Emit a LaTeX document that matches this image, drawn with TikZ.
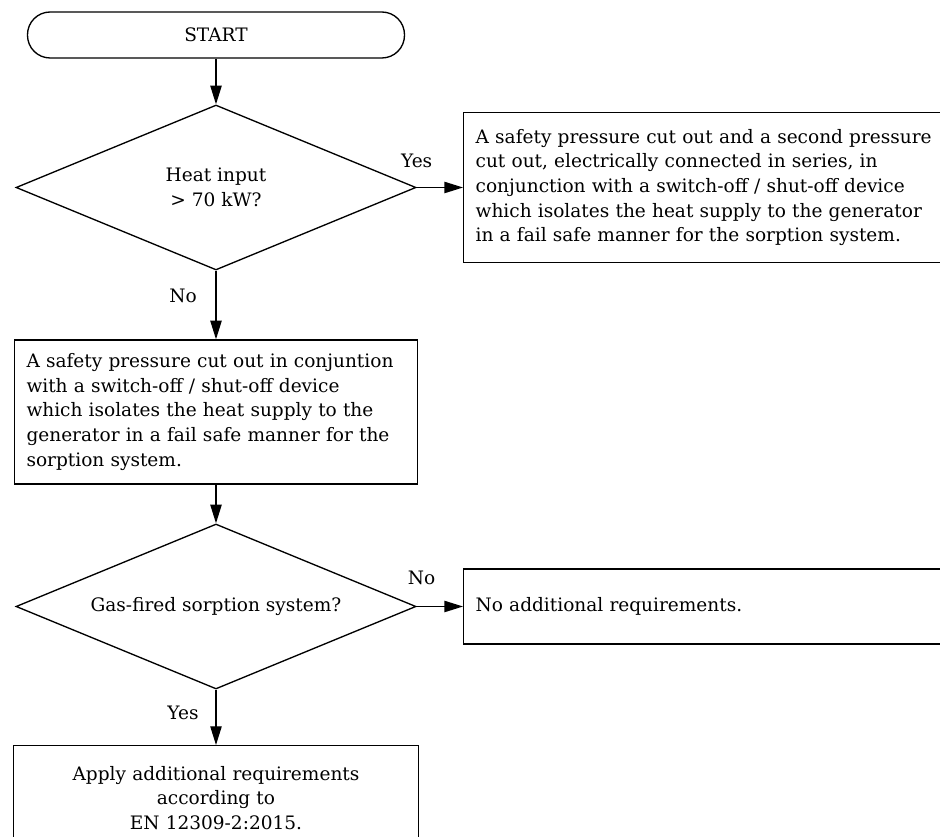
\documentclass[tikz,border=0pt]{standalone}
\usepackage{fontspec}
\setmainfont{DejaVu Serif}
\usetikzlibrary{shapes.geometric,arrows.meta,positioning}

\begin{document}
\begin{tikzpicture}[x=0.75pt, y=-0.75pt, line width=1pt,
        every node/.style={font=\fontsize{13.9}{18.4}\selectfont},
        flow/.style={-{Triangle[length=14pt,width=8.5pt]}},
        startbox/.style={draw, rounded corners=17pt, minimum width=282.75pt, minimum height=34.5pt},
        decision/.style={draw, diamond, aspect=2.4, inner sep=0pt, minimum width=300pt, minimum height=123.75pt, align=center},
        actionbox/.style={draw, inner xsep=9pt, inner ysep=6pt}]
        \path[use as bounding box, clip] (0,0) rectangle (940,837);
        \node[startbox] (start) at (216,35) {START};
        \node[decision] (heat) at (216,187.5) {Heat input\\> 70 kW?};
        \node[actionbox, anchor=west, text width=357pt, minimum height=112.5pt, align=left] (twocut) at (463,187.5) {A safety pressure cut out and a second pressure\\cut out, electrically connected in series, in\\conjunction with a switch-off / shut-off device\\which isolates the heat supply to the generator\\in a fail safe manner for the sorption system.};
        \node[actionbox, text width=284.25pt, minimum height=108pt, align=left] (onecut) at (216,412) {A safety pressure cut out in conjuntion\\with a switch-off / shut-off device\\which isolates the heat supply to the\\generator in a fail safe manner for the\\sorption system.};
        \node[decision] (gas) at (216,606.5) {Gas-fired sorption system?};
        \node[actionbox, anchor=west, text width=357pt, minimum height=56.25pt, align=left] (noreq) at (463,606.5) {No additional requirements.};
        \node[actionbox, anchor=north, text width=285.75pt, minimum height=78pt, align=center] (apply) at (216,745) {Apply additional requirements\\according to\\EN 12309-2:2015.};
        \draw[flow] (start) -- (heat);
        \draw[flow] (heat.east) -- node[pos=0, yshift=20pt] {Yes} (twocut.west);
        \draw[flow] (heat) -- node[pos=0.36, xshift=-24.75pt] {No} (onecut);
        \draw[flow] (onecut) -- (gas);
        \draw[flow] (gas.east) -- node[pos=0, xshift=3.75pt, yshift=21.75pt] {No} (noreq.west);
        \draw[flow] (gas) -- node[pos=0.42, xshift=-24.75pt] {Yes} (apply);
    \end{tikzpicture}
\end{document}
